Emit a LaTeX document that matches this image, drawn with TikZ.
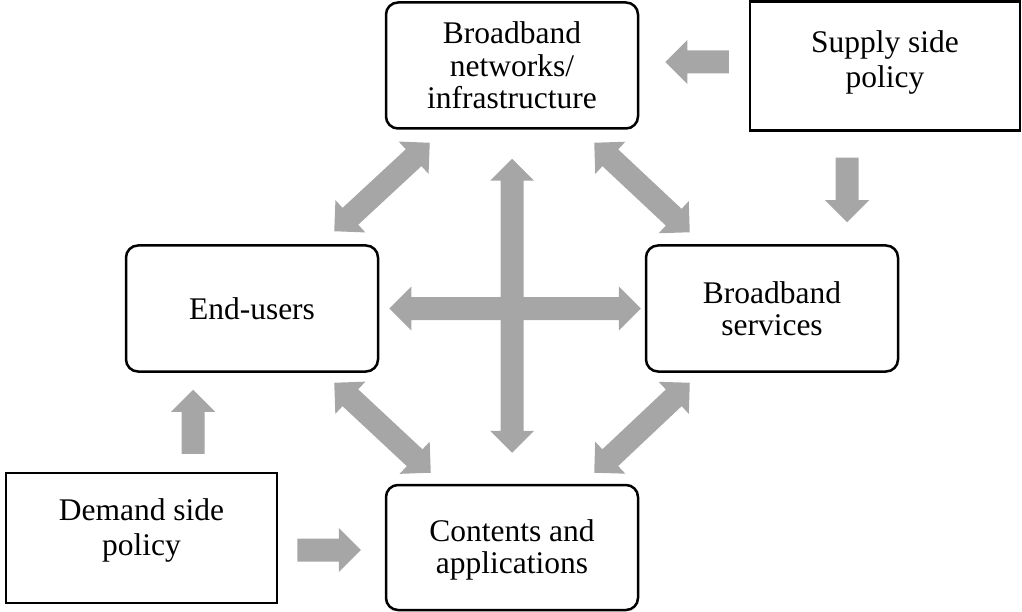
\documentclass[tikz,border=0pt]{standalone}
\usepackage{fontspec}
\setmainfont{Liberation Serif}
\usetikzlibrary{calc}
\definecolor{arrowgray}{RGB}{166,166,166}
\newcommand{\shaftw}{11.5pt}
\newcommand{\headw}{22pt}
\newcommand{\headl}{22pt}
\newcommand{\blockarrow}[2]{%
  \fill[arrowgray] ($(#1)!\shaftw!90:(#2)$)
    -- ($(#2)!\headl!(#1)!\shaftw!-90:(#1)$)
    -- ($(#2)!\headl!(#1)!\headw!-90:(#1)$)
    -- (#2)
    -- ($(#2)!\headl!(#1)!\headw!90:(#1)$)
    -- ($(#2)!\headl!(#1)!\shaftw!90:(#1)$)
    -- ($(#1)!\shaftw!-90:(#2)$) -- cycle;}
\newcommand{\dblblockarrow}[2]{%
  \fill[arrowgray] (#1)
    -- ($(#1)!\headl!(#2)!\headw!90:(#2)$)
    -- ($(#1)!\headl!(#2)!\shaftw!90:(#2)$)
    -- ($(#2)!\headl!(#1)!\shaftw!-90:(#1)$)
    -- ($(#2)!\headl!(#1)!\headw!-90:(#1)$)
    -- (#2)
    -- ($(#2)!\headl!(#1)!\headw!90:(#1)$)
    -- ($(#2)!\headl!(#1)!\shaftw!90:(#1)$)
    -- ($(#1)!\headl!(#2)!\shaftw!-90:(#2)$)
    -- ($(#1)!\headl!(#2)!\headw!-90:(#2)$) -- cycle;}
\tikzset{
  txt/.style={align=center, inner sep=0pt, font=\fontsize{31.5}{32.5}\selectfont},
  sqtxt/.style={align=center, inner sep=0pt, font=\fontsize{31.5}{35}\selectfont},
  rbox/.style={txt, draw, line width=2.5pt, rounded corners=12pt, minimum width=252pt, minimum height=126pt},
  sqbox/.style={draw, line width=2.5pt, inner sep=0pt, minimum width=270pt, minimum height=129pt},
}
\begin{document}
\begin{tikzpicture}[x=1pt, y=-1pt]
\useasboundingbox (0,0) rectangle (1022,612);
% boxes
\node[rbox] (top) at (512,65.5) {Broadband\\networks/\\infrastructure};
\node[sqbox] (supply) at (885,66) {};
\node[sqtxt] (supplyt) at ($(supply.center)+(0,-4)$) {Supply side\\policy};
\node[rbox] (endu) at (252,308.5) {End-users};
\node[rbox] (serv) at (772,308.5) {Broadband\\services};
\node[sqbox, minimum width=271pt, minimum height=130pt] (demand) at (141.5,538) {};
\node[sqtxt] (demandt) at ($(demand.center)+(0,-8)$) {Demand side\\policy};
\node[rbox, minimum height=125pt] (cont) at (512,547.5) {};
\node[txt] (contt) at ($(cont.center)+(0,2.5)$) {Contents and\\applications};
% arrow end points
\coordinate (s1a) at ($(supply.west)+(-20,-4)$);
\coordinate (s1b) at ($(top.east)+(26,-3.5)$);
\coordinate (s2a) at ($(supply.south)+(-38,26)$);
\coordinate (s2b) at ($(serv.north)+(75,-22)$);
\coordinate (d1a) at ($(demand.north)+(51.5,-18)$);
\coordinate (d1b) at ($(endu.south)+(-59,17)$);
\coordinate (d2a) at ($(demand.east)+(19,12)$);
\coordinate (d2b) at ($(cont.west)+(-24,2.5)$);
\coordinate (va) at ($(top.south)+(0,29)$);
\coordinate (vb) at ($(cont.north)+(0,-31)$);
\coordinate (ha) at ($(endu.east)+(10,0)$);
\coordinate (hb) at ($(serv.west)+(-4,0)$);
\coordinate (tla) at ($(top.south west)+(45,13)$);
\coordinate (tlb) at ($(endu.north east)+(-45,-13)$);
\coordinate (tra) at ($(top.south east)+(-45,13)$);
\coordinate (trb) at ($(serv.north west)+(45,-12)$);
\coordinate (bla) at ($(endu.south east)+(-45,10)$);
\coordinate (blb) at ($(cont.north west)+(46,-11)$);
\coordinate (bra) at ($(serv.south west)+(45,10)$);
\coordinate (brb) at ($(cont.north east)+(-45,-11)$);
% arrows
\blockarrow{s1a}{s1b}
\blockarrow{s2a}{s2b}
\blockarrow{d1a}{d1b}
\blockarrow{d2a}{d2b}
\dblblockarrow{va}{vb}
\dblblockarrow{ha}{hb}
\dblblockarrow{tla}{tlb}
\dblblockarrow{tra}{trb}
\dblblockarrow{bla}{blb}
\dblblockarrow{bra}{brb}
\end{tikzpicture}
\end{document}
